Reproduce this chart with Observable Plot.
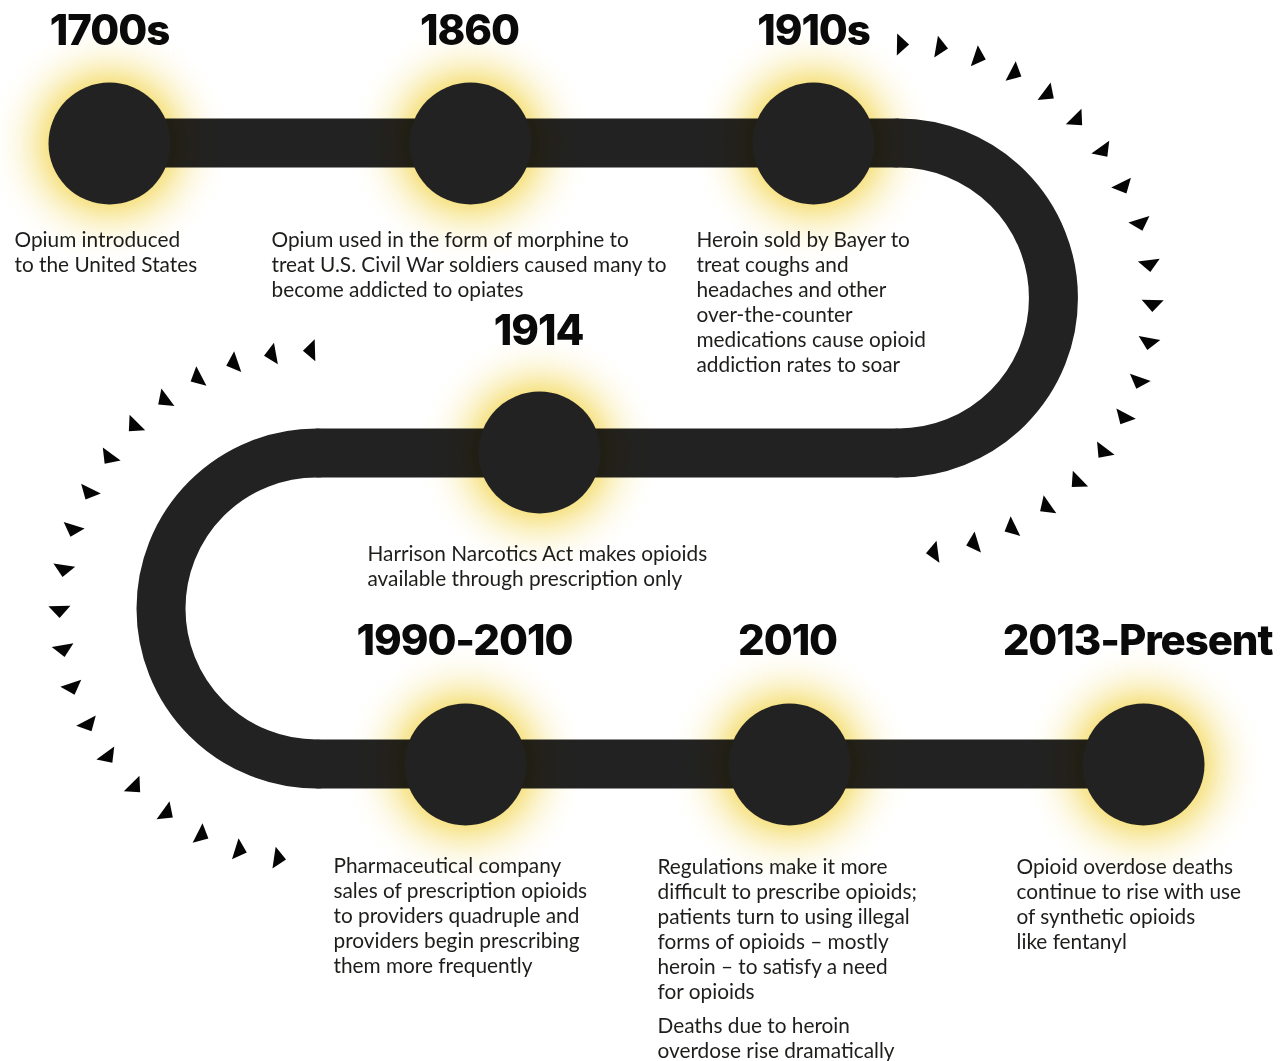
<!DOCTYPE html>
<html>
<head>
<meta charset="utf-8">
<script src="https://cdn.jsdelivr.net/npm/d3@7"></script>
<script src="https://cdn.jsdelivr.net/npm/@observablehq/plot@0.6"></script>
<style>
  html, body { margin: 0; padding: 0; background: #ffffff; }
  #chart svg { display: block; }
</style>
</head>
<body>
<div id="chart"></div>
<script>
// ---------- data ----------
const eras = ["1700s", "1860", "1910s", "1914", "1990-2010", "2010", "2013-Present"];
const descriptions = [
  "Opium introduced\nto the United States",
  "Opium used in the form of morphine to\ntreat U.S. Civil War soldiers caused many to\nbecome addicted to opiates",
  "Heroin sold by Bayer to\ntreat coughs and\nheadaches and other\nover-the-counter\nmedications cause opioid\naddiction rates to soar",
  "Harrison Narcotics Act makes opioids\navailable through prescription only",
  "Pharmaceutical company\nsales of prescription opioids\nto providers quadruple and\nproviders begin prescribing\nthem more frequently",
  "Regulations make it more\ndifficult to prescribe opioids;\npatients turn to using illegal\nforms of opioids \u2013 mostly\nheroin \u2013 to satisfy a need\nfor opioids",
  "Opioid overdose deaths\ncontinue to rise with use\nof synthetic opioids\nlike fentanyl"
];
const notes = ["Deaths due to heroin\noverdose rise dramatically"];
const noteEra = ["2010"];

// node positions along the timeline track (chart units)
const nodeX = [109, 470, 813, 539, 465, 789, 1143];
const nodeY = [143, 143, 143, 452, 764, 764, 764];

// track: straight runs and U-turns
const runX1 = [109, 316, 316];
const runX2 = [898, 898, 1143];
const runY  = [142.5, 452.5, 763.5];
const turnX  = [898, 316];
const turnY1 = [142.5, 763.5];
const turnY2 = [452.5, 452.5];
const turnDir = ["clockwise", "counterclockwise"];

// direction chevrons around each U-turn
const chevronsRight = [[902,44],[941,47],[979,57],[1015,73],[1048,94],[1077,120],[1103,151],[1123,187],[1140,224],[1149,265],[1152,305],[1148,343],[1138,382],[1123,418],[1102,452],[1076,482],[1045,507],[1010,528],[972,543],[932,552]];
const chevronsLeft = [[309,350],[270,354],[232,363],[196,378],[163,400],[133,426],[108,458],[88,493],[72,530],[63,570],[59,611],[63,650],[72,688],[88,725],[108,757],[135,787],[167,813],[202,835],[240,850],[279,858]];

// ---------- layout (text placement, chart units) ----------
const headTop  = [15, 15, 15, 315, 625, 625, 625];
const headX    = [109, 469, 813, 538, 464, 787, 1137];
const descX    = [14, 271, 696, 367, 333, 657, 1016];
const descTop  = [229, 229, 229, 543, 855, 856, 856];
const noteX = [657], noteTop = [1015];

// ---------- build tables ----------
const nodes = eras.map((era, i) => ({era, desc: descriptions[i], x: nodeX[i], y: nodeY[i],
  hx: headX[i], hy: headTop[i], dx: descX[i], dy: descTop[i]}));
const runs = runX1.map((x1, i) => ({x1, x2: runX2[i], y: runY[i]}));
const turns = turnX.map((x, i) => ({x, y1: turnY1[i], y2: turnY2[i], dir: turnDir[i]}));
const noteRows = notes.map((t, i) => ({text: t, x: noteX[i], y: noteTop[i], era: noteEra[i]}));

function chevronRows(points, turn) {
  const cx = turn.x, cy = (turn.y1 + turn.y2) / 2;
  return points.map(([x, y]) => {
    const a = Math.atan2(y - cy, x - cx);
    const cw = turn.dir === "clockwise" ? 1 : -1;
    const tx = -Math.sin(a) * cw, ty = Math.cos(a) * cw;
    return {x, y, rotate: Math.atan2(tx, -ty) * 180 / Math.PI};
  });
}
const chevrons = [...chevronRows(chevronsRight, turns[0]), ...chevronRows(chevronsLeft, turns[1])];

// flat isosceles triangle pointing "up" before rotation
const flatTriangle = {
  draw(ctx, size) {
    const r = Math.sqrt(size / Math.PI);
    ctx.moveTo(0, -0.6 * r);
    ctx.lineTo(r, 0.5 * r);
    ctx.lineTo(-r, 0.5 * r);
    ctx.closePath();
  }
};

const W = 1280, H = 1061;
const TRACK = "#222222";
const BODY = 20.8;

const svg = Plot.plot({
  width: W,
  height: H,
  margin: 0,
  x: {domain: [0, W], range: [0, W], axis: null},
  y: {domain: [0, H], range: [0, H], axis: null},
  style: {background: "#ffffff"},
  marks: [
    // straight runs of the track
    Plot.link(runs, {x1: "x1", x2: "x2", y1: "y", y2: "y", stroke: TRACK, strokeWidth: 49, strokeLinecap: "butt"}),
    // U-turns: half circles
    Plot.arrow(turns, {x1: "x", y1: "y1", x2: "x", y2: "y2", bend: 90, headLength: 0,
      stroke: TRACK, strokeWidth: 49, strokeLinecap: "round"}),
    // glows
    Plot.dot(nodes, {x: "x", y: "y", r: 120, fill: "url(#glow)", stroke: "none", mixBlendMode: "multiply"}),
    // nodes
    Plot.dot(nodes, {x: "x", y: "y", r: 61, fill: TRACK, stroke: "none"}),
    // chevrons
    Plot.dot(chevrons, {x: "x", y: "y", rotate: "rotate", r: 11, symbol: flatTriangle, fill: "#050505", stroke: "none"}),
    // headings
    Plot.text(nodes, {x: "hx", y: "hy", text: "era", textAnchor: "middle", lineAnchor: "top",
      fontFamily: "Inter, 'Open Sans', sans-serif", fontWeight: 800, fontSize: 42, fill: "#0a0a0a"}),
    // descriptions
    Plot.text(nodes, {x: "dx", y: "dy", text: "desc", textAnchor: "start", lineAnchor: "top", lineHeight: 25 / BODY,
      fontFamily: "Lato, sans-serif", fontSize: BODY, fill: "#1d1d1b"}),
    Plot.text(noteRows, {x: "x", y: "y", text: "text", textAnchor: "start", lineAnchor: "top", lineHeight: 25 / BODY,
      fontFamily: "Lato, sans-serif", fontSize: BODY, fill: "#1d1d1b"})
  ]
});

// tighten heading tracking (Montserrat-like width)
d3.select(svg).selectAll("g[font-weight='800']").attr("letter-spacing", "-1.1px");

// radial gradient for the glow
const defs = d3.select(svg).insert("defs", ":first-child");
const g = defs.append("radialGradient").attr("id", "glow");
[[0, 0.72], [0.505, 0.72], [0.56, 0.58], [0.63, 0.4], [0.71, 0.24], [0.8, 0.11], [0.9, 0.035], [1, 0]].forEach(([o, a]) => {
  g.append("stop").attr("offset", o).attr("stop-color", "#f3d85a").attr("stop-opacity", a);
});

document.getElementById("chart").appendChild(svg);
</script>
</body>
</html>
